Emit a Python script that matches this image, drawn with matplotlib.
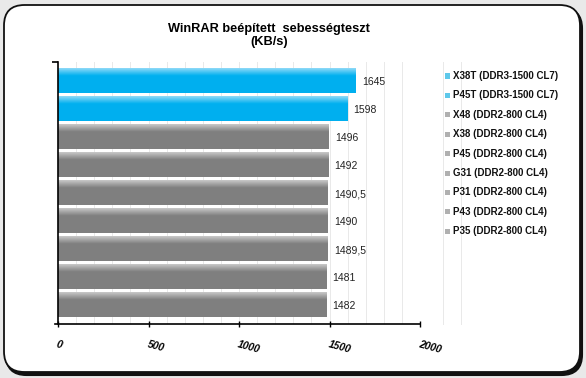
import matplotlib
matplotlib.use("Agg")
import matplotlib.pyplot as plt
import numpy as np
from matplotlib.patches import FancyBboxPatch, Rectangle

categories = ["X38T (DDR3-1500 CL7)", "P45T (DDR3-1500 CL7)", "X48 (DDR2-800 CL4)",
              "X38 (DDR2-800 CL4)", "P45 (DDR2-800 CL4)", "G31 (DDR2-800 CL4)",
              "P31 (DDR2-800 CL4)", "P43 (DDR2-800 CL4)", "P35 (DDR2-800 CL4)"]
values = [1645, 1598, 1496, 1492, 1490.5, 1490, 1489.5, 1481, 1482]
value_labels = ["1645", "1598", "1496", "1492", "1490,5", "1490", "1489,5", "1481", "1482"]
is_ddr3 = [True, True, False, False, False, False, False, False, False]
xticks = [0, 500, 1000, 1500, 2000]
title = "WinRAR beépített  sebességteszt\n(KB/s)"

plt.rcParams['font.family'] = ['Liberation Sans', 'DejaVu Sans']

W, H = 586, 378
fig = plt.figure(figsize=(W / 100, H / 100), dpi=100)
fig.patch.set_facecolor("#e9e9e9")

# rounded frame with shadow
shadow = FancyBboxPatch((6 / W, 3 / H), 576 / W, 367 / H,
                        boxstyle="round,pad=0,rounding_size=0.035",
                        transform=fig.transFigure, facecolor="#111111",
                        edgecolor="#111111", lw=1.5, zorder=-2, mutation_aspect=W / H)
fig.patches.append(shadow)
frame = FancyBboxPatch((4 / W, 6 / H), 576 / W, 367 / H,
                       boxstyle="round,pad=0,rounding_size=0.035",
                       transform=fig.transFigure, facecolor="white",
                       edgecolor="#111111", lw=1.3, zorder=-1, mutation_aspect=W / H)
fig.patches.append(frame)

ax = fig.add_axes([58 / W, 1 - 324 / H, (420 - 58) / W, (324 - 62) / H])
ax.set_facecolor("none")

n = len(categories)
y = np.arange(n)
bh = 0.86

blue_top = np.array([0.55, 0.85, 0.97])
blue = np.array([0.0, 0.69, 0.94])
gray_top = np.array([0.78, 0.78, 0.78])
gray = np.array([0.50, 0.50, 0.50])

for i, (v, d3) in enumerate(zip(values, is_ddr3)):
    base = blue if d3 else gray
    top = blue_top if d3 else gray_top
    t = np.linspace(0, 1, 40)
    f = np.clip(t / 0.3, 0, 1)[:, None]
    grad = top * (1 - f) + base * f
    img = grad[:, None, :]
    ax.imshow(img, extent=(0, v, y[i] + bh / 2, y[i] - bh / 2), aspect="auto",
              interpolation="bilinear", zorder=2)
    ax.text(v + 35, y[i] + 0.05, value_labels[i], va="center", ha="left",
            fontsize=7.5, color="#222222", zorder=3)

ax.set_xlim(0, 2000)
ax.set_ylim(n - 1 + 0.68, -0.68)

# faint vertical gridlines every 100
for gx in range(100, 2100, 100):
    ax.axvline(gx, color="#e9e9e9", lw=0.7, zorder=1)
for gx in [2125, 2225]:
    ax.axvline(gx, color="#e9e9e9", lw=0.7, zorder=1, clip_on=False)

for s in ["top", "right"]:
    ax.spines[s].set_visible(False)
ax.spines["left"].set_linewidth(1.2)
ax.spines["bottom"].set_linewidth(1.2)
ax.spines["bottom"].set_bounds(-15, 2000)

ax.set_yticks([-0.68])
ax.set_yticklabels([""])
ax.tick_params(axis="y", length=4, width=1.2, direction="out")
ax.set_xticks(xticks)
ax.set_xticklabels([str(v) for v in xticks], fontsize=7.5, fontweight="bold",
                   fontstyle="italic", rotation=-15, ha="left", va="top",
                   rotation_mode="anchor")
ax.tick_params(axis="x", length=4, width=1.0, direction="inout", pad=9)

fig.text(269 / W, 1 - 35.5 / H, title, ha="center", va="center",
         fontsize=9.2, fontweight="bold", linespacing=1.15)

# legend
for i, name in enumerate(categories):
    yy = 1 - (76 + i * 19.4) / H
    col = "#5ec8ea" if is_ddr3[i] else "#b0b0b0"
    fig.patches.append(Rectangle((445 / W, yy - 2.5 / H), 5 / W, 5 / H,
                                 transform=fig.transFigure, facecolor=col,
                                 edgecolor="none", zorder=3))
    fig.text(453 / W, yy, name, ha="left", va="center", fontsize=7,
             fontweight="bold", color="#111111")

fig.savefig("out.png", dpi=100, facecolor=fig.get_facecolor())
